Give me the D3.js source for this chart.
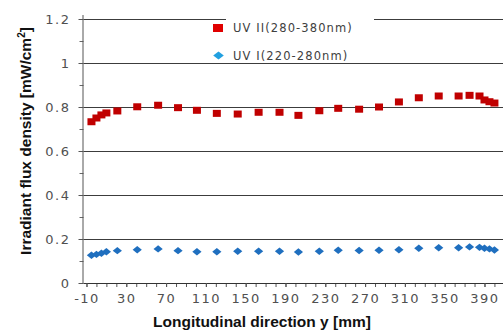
<!DOCTYPE html>
<html>
<head>
<meta charset="utf-8">
<script src="https://cdn.jsdelivr.net/npm/d3@7"></script>
<style>
  body { margin: 0; background: #fff; }
  svg { display: block; }
  .tick text { font-family: "DejaVu Sans", Verdana, sans-serif; font-size: 13px; fill: #505050; letter-spacing: 1.5px; }
  .titel { font-family: "Liberation Sans", Arial, sans-serif; font-weight: bold; font-size: 15.5px; fill: #111; }
  .legenda { font-family: "DejaVu Sans", Verdana, sans-serif; font-size: 11.5px; fill: #404040; letter-spacing: 1.1px; }
</style>
</head>
<body>
<div id="grafiek"></div>
<script>
// positie langs y [mm]
const positie = [-5, 0, 5, 10, 21, 41, 62, 82, 101, 121, 142, 163, 184, 203, 224, 243, 264, 284, 304, 324, 344, 364, 375, 385, 390, 395, 400];
// UV II (280-380nm) [mW/cm2]
const uv2 = [0.733, 0.750, 0.764, 0.773, 0.782, 0.801, 0.808, 0.797, 0.785, 0.771, 0.768, 0.776, 0.776, 0.762, 0.783, 0.794, 0.790, 0.800, 0.823, 0.842, 0.850, 0.850, 0.853, 0.850, 0.832, 0.824, 0.818];
// UV I (220-280nm) [mW/cm2]
const uv1 = [0.126, 0.130, 0.135, 0.142, 0.147, 0.151, 0.155, 0.147, 0.142, 0.142, 0.144, 0.144, 0.144, 0.141, 0.144, 0.149, 0.148, 0.149, 0.151, 0.158, 0.160, 0.160, 0.164, 0.162, 0.158, 0.155, 0.150];

const xLabels = [-10, 30, 70, 110, 150, 190, 230, 270, 310, 350, 390];
const xMinor = d3.range(-10, 401, 10);
const yLabels = [0, 0.2, 0.4, 0.6, 0.8, 1, 1.2];
const yMinor = [0.1, 0.3, 0.5, 0.7, 0.9, 1.1];
const reeksen = ["UV II(280-380nm)", "UV I(220-280nm)"];

const width = 503;
const height = 331;
const links = 83.5;
const boven = 19;
const onder = 283;

const x = d3.scaleLinear()
  .domain([-13, 409])
  .range([links, links + 422 * 0.995]);
const y = d3.scaleLinear()
  .domain([0, 1.2])
  .range([onder, boven]);

const svg = d3.select("#grafiek")
  .append("svg")
  .attr("width", width)
  .attr("height", height);

// rasterlijnen
svg.append("g")
  .attr("class", "raster")
  .attr("transform", `translate(${links},0)`)
  .call(d3.axisLeft(y)
    .tickValues(yLabels.slice(1))
    .tickSize(-(width - links))
    // @ts-ignore
    .tickFormat(""))
  .call(g => g.select(".domain").remove())
  .call(g => g.selectAll(".tick line").attr("stroke", "#3c3c3c"));

// legenda achtergrond
svg.append("rect")
  .attr("x", 226)
  .attr("y", 8)
  .attr("width", 148)
  .attr("height", 50)
  .attr("fill", "#fff");

// Y-AS
svg.append("g")
  .attr("transform", `translate(${links},0)`)
  .call(d3.axisLeft(y).tickValues(yMinor).tickSize(4).tickFormat(""))
  .call(g => g.select(".domain").remove())
  .call(g => g.selectAll("line").attr("stroke", "#666"));

svg.append("g")
  .attr("transform", `translate(${links},0)`)
  .call(d3.axisLeft(y)
    .tickValues(yLabels)
    .tickSize(5)
    .tickPadding(8)
    .tickFormat(d => String(+d.toFixed(1))))
  .call(g => g.select(".domain").attr("stroke", "#555").attr("d", `M-0.5,${boven - 4}V${onder}`))
  .call(g => g.selectAll("line").attr("stroke", "#555"));

// X-AS
svg.append("g")
  .attr("transform", `translate(0,${onder})`)
  .call(d3.axisBottom(x).tickValues(xMinor).tickSize(4).tickFormat(""))
  .call(g => g.select(".domain").remove())
  .call(g => g.selectAll("line").attr("stroke", "#555"));

svg.append("g")
  .attr("transform", `translate(0,${onder})`)
  .call(d3.axisBottom(x)
    .tickValues(xLabels)
    .tickSize(4)
    .tickPadding(7)
    .tickFormat(d => String(d)))
  .call(g => g.select(".domain").attr("stroke", "#333").attr("d", `M${links},0.5H${width}`))
  .call(g => g.selectAll("line").attr("stroke", "#555"));

// titels
const yTitel = svg.append("text")
  .attr("class", "titel")
  .attr("text-anchor", "middle")
  .attr("transform", `translate(31,${(boven + onder) / 2 - 10}) rotate(-90)`);
yTitel.append("tspan").text("Irradiant flux density [mW/cm");
yTitel.append("tspan").attr("dy", -6).style("font-size", "10px").text("2");
yTitel.append("tspan").attr("dy", 6).text("]");

svg.append("text")
  .attr("class", "titel")
  .attr("text-anchor", "middle")
  .attr("x", 262)
  .attr("y", 327)
  .text("Longitudinal direction y [mm]");

// UV II
svg.append("g")
  .selectAll("rect")
  .data(positie)
  .join("rect")
  .attr("x", (d, i) => x(d) - 4)
  .attr("y", (d, i) => y(uv2[i]) - 3.5)
  .attr("width", 8)
  .attr("height", 7)
  .attr("fill", "#c00000");

// UV I
const ruit = (cx, cy, w, h) => `M${cx - w},${cy}L${cx},${cy - h}L${cx + w},${cy}L${cx},${cy + h}Z`;
svg.append("g")
  .selectAll("path")
  .data(positie)
  .join("path")
  .attr("d", (d, i) => ruit(x(d), y(uv1[i]), 4.6, 3.7))
  .attr("fill", "#1f6fbf");

// legenda
svg.append("rect")
  .attr("x", 213)
  .attr("y", 24)
  .attr("width", 10)
  .attr("height", 8)
  .attr("fill", "#e00000");
svg.append("path")
  .attr("d", ruit(218.5, 55.5, 5.3, 4))
  .attr("fill", "#22a0e0");

svg.selectAll(".legenda")
  .data(reeksen)
  .join("text")
  .attr("class", "legenda")
  .attr("x", 233)
  .attr("y", (d, i) => 32 + i * 28)
  .text(d => d);
</script>
</body>
</html>
